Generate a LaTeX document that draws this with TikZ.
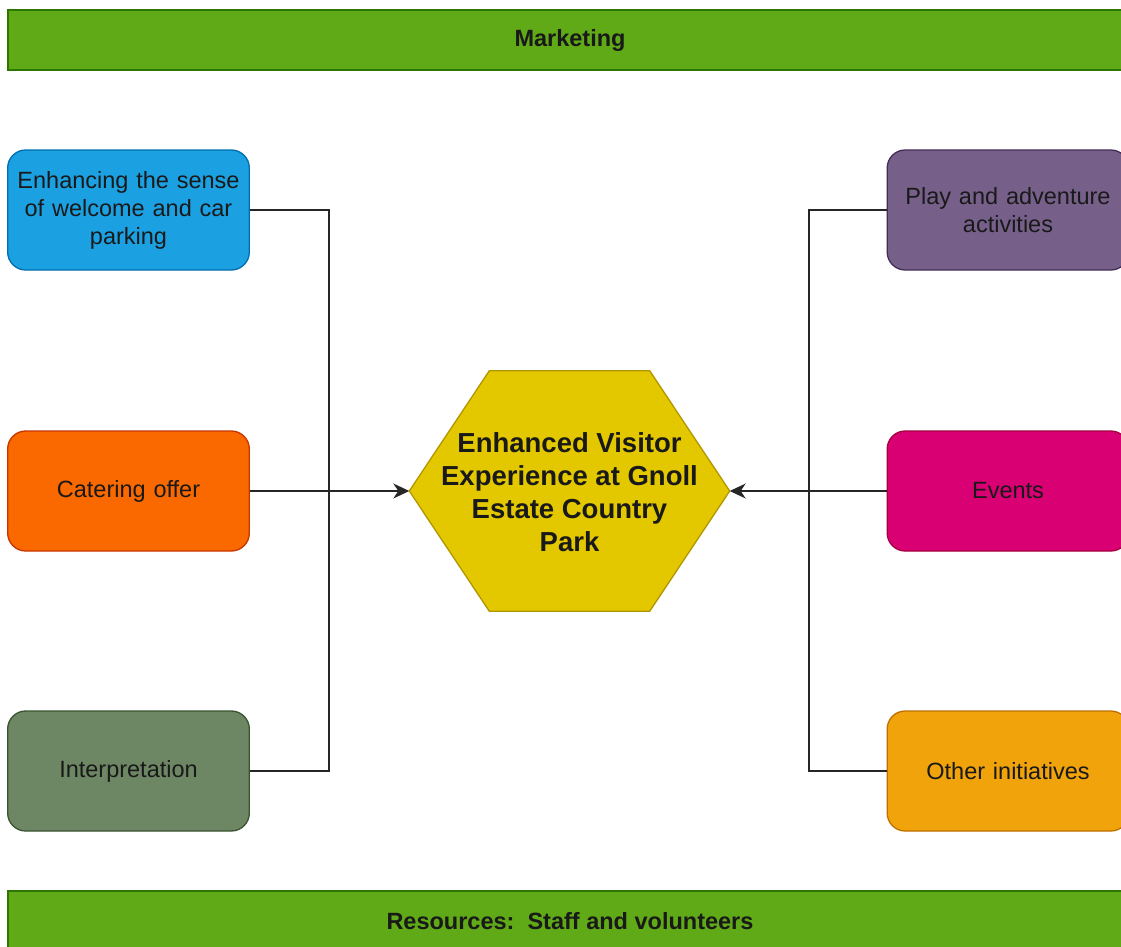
\documentclass[tikz,border=0pt]{standalone}
\usepackage{fontspec}
\setmainfont{Liberation Sans}
\usetikzlibrary{arrows.meta,positioning,calc}
\definecolor{barfill}{HTML}{60A917}
\definecolor{barline}{HTML}{2D7600}
\definecolor{bluefill}{HTML}{1BA1E2}
\definecolor{blueline}{HTML}{006EAF}
\definecolor{orangefill}{HTML}{FA6800}
\definecolor{orangeline}{HTML}{C73500}
\definecolor{olivefill}{HTML}{6D8764}
\definecolor{oliveline}{HTML}{3A5431}
\definecolor{violetfill}{HTML}{76608A}
\definecolor{violetline}{HTML}{432D57}
\definecolor{pinkfill}{HTML}{D80073}
\definecolor{pinkline}{HTML}{A50040}
\definecolor{amberfill}{HTML}{F0A30A}
\definecolor{amberline}{HTML}{BD7000}
\definecolor{hexfill}{HTML}{E3C800}
\definecolor{hexline}{HTML}{B09500}

\begin{document}
\begin{tikzpicture}[
  x=1pt,y=-1pt,
  every node/.style={font=\fontsize{23.5}{28}\selectfont,text=black!90},
  bar/.style={draw=barline,line width=1.3pt,fill=barfill,minimum width=1124pt,minimum height=60pt,font=\fontsize{23.5}{28}\selectfont\bfseries},
  item/.style={rounded corners=18pt,line width=1.3pt,minimum width=241pt,minimum height=120pt,text width=235pt,align=center},
  link/.style={line width=1.3pt,black!85},
  arr/.style={link,-{Stealth[length=16pt,width=15pt,inset=5pt]}}
]
\clip (0,0) rectangle (1121,947);
\fill[white] (0,0) rectangle (1121,947);

% bars
\node[bar] (mkt) at (570,40) {Marketing};
\node[bar] (res) at (570,921) {Resources:\ \ Staff and volunteers};

% centre
\node[minimum width=320pt,minimum height=240pt,inner sep=0pt] (hex) at (569.5,491) {};
\draw[hexline,fill=hexfill,line width=1.3pt] (hex.west) -- ($(hex.north west)+(80,0)$) -- ($(hex.north east)+(-80,0)$)
  -- (hex.east) -- ($(hex.south east)+(-80,0)$) -- ($(hex.south west)+(80,0)$) -- cycle;
\node[align=center,font=\fontsize{27.5}{33}\selectfont\bfseries] (hextext) at ([yshift=-1pt]hex.center)
  {Enhanced Visitor\\Experience at Gnoll\\Estate Country\\Park};

% left column
\node[item,draw=blueline,fill=bluefill] (welcome) at (128.5,210) {Enhancing the sense\\of welcome and car\\parking};
\node[item,draw=orangeline,fill=orangefill] (catering) at (128.5,491) {Catering offer};
\node[item,draw=oliveline,fill=olivefill] (interp) at (128.5,771) {Interpretation};

% right column
\node[item,draw=violetline,fill=violetfill] (play) at (1008,210) {Play and adventure\\activities};
\node[item,draw=pinkline,fill=pinkfill] (events) at (1008,491) {Events};
\node[item,draw=amberline,fill=amberfill] (other) at (1008,771) {Other initiatives};

% connectors
\coordinate (ljoin) at (329,491);
\coordinate (rjoin) at (809,491);
\draw[link] (welcome.east) -| (ljoin);
\draw[link] (interp.east) -| (ljoin);
\draw[arr] (catering.east) -- (hex.west);
\draw[link] (play.west) -| (rjoin);
\draw[link] (other.west) -| (rjoin);
\draw[arr] (events.west) -- (hex.east);
\end{tikzpicture}
\end{document}
